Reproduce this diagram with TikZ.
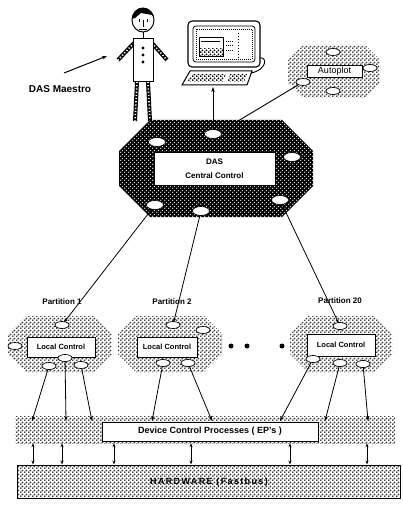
\documentclass[tikz,border=0pt]{standalone}
\usepackage{fontspec}
\setmainfont{Liberation Sans}
\usetikzlibrary{patterns,arrows.meta,shapes.geometric}

% stipple of round dots, used for the light and dark screens
\pgfdeclarepatternformonly{bigdots}{\pgfpointorigin}{\pgfpoint{4pt}{4pt}}{\pgfpoint{4pt}{4pt}}{%
  \pgfpathcircle{\pgfpoint{1pt}{1pt}}{1.15pt}%
  \pgfpathcircle{\pgfpoint{3pt}{3pt}}{1.15pt}%
  \pgfusepath{fill}}
\pgfdeclarepatternformonly{holes}{\pgfpointorigin}{\pgfpoint{4pt}{4pt}}{\pgfpoint{4pt}{4pt}}{%
  \pgfpathcircle{\pgfpoint{1pt}{1pt}}{0.8pt}%
  \pgfpathcircle{\pgfpoint{3pt}{3pt}}{0.8pt}%
  \pgfusepath{fill}}

% octagon outline from (x1,y1) to (x2,y2) with corner cut c
\newcommand\octo[5]{(#1+#5,#2) -- (#3-#5,#2) -- (#3,#2+#5) -- (#3,#4-#5) -- (#3-#5,#4) -- (#1+#5,#4) -- (#1,#4-#5) -- (#1,#2+#5) -- cycle}

\tikzset{
  lightfill/.style={pattern=bigdots, pattern color=black!80},
  darkfill/.style={preaction={fill=black}, pattern=holes, pattern color=white},
  port/.style={ellipse, draw, line width=0.7pt, fill=white, minimum width=14pt, minimum height=7pt, inner sep=0pt},
  bigport/.style={port, minimum width=17pt, minimum height=9pt},
  ctlbox/.style={draw, line width=0.8pt, fill=white, inner sep=0pt},
  lbl/.style={font=\bfseries\fontsize{8}{9}\selectfont},
  conn/.style={line width=0.8pt, -{Stealth[length=5pt,width=3.5pt]}},
  link/.style={line width=0.8pt, -{Stealth[length=4pt,width=3pt]}, shorten >=-1pt},
  both/.style={line width=0.8pt, {Stealth[length=4pt,width=3pt]}-{Stealth[length=4pt,width=3pt]}},
  limb/.style={line width=4pt, black},
  limbdots/.style={line width=1.6pt, white, dash pattern=on 1.2pt off 2pt},
}

\begin{document}
\begin{tikzpicture}[x=1pt, y=-1pt]
\useasboundingbox (0,0) rectangle (402,505);

% ---------- the operator ----------
\draw[line width=1pt] (143,20) ellipse [x radius=11pt, y radius=12pt];
\fill (132,19) arc[start angle=180, end angle=0, x radius=11pt, y radius=11pt] -- (152,15) -- (141,13) -- (135,18) -- cycle;
\draw[line width=0.9pt] (139,19) -- (139,22) (147,19) -- (147,22) (143,20) -- (143,27) (139,29) -- (147,29);
\draw[line width=1pt] (143,32) -- (143,39);
\draw[limb] (134,43) -- (118,60);
\draw[limbdots] (134,43) -- (118,60);
\draw[limb] (152,43) -- (167,60);
\draw[limbdots] (152,43) -- (167,60);
\draw[limb] (137,82) -- (135,121);
\draw[limbdots] (137,82) -- (135,121);
\draw[limb] (148,82) -- (150,121);
\draw[limbdots] (148,82) -- (150,121);
\node[draw, line width=1pt, fill=white, minimum width=20pt, minimum height=43pt, inner sep=0pt] (body) at (143,60.5) {};
\foreach \y in {48,55,62} \fill (143,\y) circle (1.6pt);
\node[font=\bfseries\fontsize{10}{12}\selectfont] (maestro) at (60,89) {DAS Maestro};
\coordinate (mtail) at (64,73);
\coordinate (mhead) at (107,56);
\draw[conn, line width=1pt] (mtail) -- (mhead);

% ---------- the console ----------
\draw[line width=1.1pt, rounded corners=4pt, fill=white] (188,21) rectangle (260,67);
\draw[line width=0.8pt, rounded corners=3pt] (193,26) rectangle (255,62);
\draw[line width=0.6pt, dash pattern=on 1pt off 1pt] (196,29) rectangle (252,59);
\draw[line width=0.7pt] (199,37) rectangle (223,56);
\fill[pattern=bigdots] (199,49) rectangle (223,56);
\draw[line width=0.6pt] (201,41) -- (220,41);
\draw[line width=0.8pt, dash pattern=on 1.5pt off 1.5pt] (238,33) -- (238,58);
\draw[line width=0.8pt, dash pattern=on 1pt off 1pt] (226,41) -- (234,41) (226,45) -- (233,45) (226,50) -- (234,50);
\draw[line width=1pt, fill=white] (190,71) -- (252,71) -- (247,85) -- (182,85) -- cycle;
\fill[pattern=bigdots] (192,74) -- (226,74) -- (223,82) -- (187,82) -- cycle;
\fill[pattern=bigdots] (230,74) -- (247,74) -- (244,82) -- (227,82) -- cycle;
\draw[line width=0.9pt] (259,58) .. controls (268,56) and (267,70) .. (251,73);
\coordinate (console) at (213,87);

% ---------- plotting service ----------
\fill[lightfill] \octo{288}{45}{380}{98}{15};
\node[ctlbox, minimum width=55pt, minimum height=12pt, font=\fontsize{9}{10}\selectfont] (autoplot) at (334.5,71) {Autoplot};
\node[port] (aptop) at (333,52) {};
\node[port] (apright) at (370,68) {};
\node[port] (apleft) at (303,82) {};
\node[port] (apbot) at (333,91) {};

% ---------- central control ----------
\fill[darkfill] \octo{119}{120}{313}{217}{31};
\node[ctlbox, minimum width=121pt, minimum height=33pt, align=center, font=\bfseries\fontsize{8}{14}\selectfont] (das) at (214.5,168.5) {DAS\\Central Control};
\node[bigport] (dA) at (213,134) {};
\node[bigport] (dB) at (157,142) {};
\node[bigport] (dC) at (292,157) {};
\node[bigport] (dD) at (155,205) {};
\node[bigport] (dE) at (201,211) {};
\node[bigport] (dF) at (280,200) {};
\coordinate (dtop) at (238,121);
\draw[conn] (dA) -- (console);
\draw[line width=0.9pt] (apleft) -- (dtop);

% ---------- partitions ----------
\fill[lightfill] \octo{8}{316}{112}{372}{18};
\fill[lightfill] \octo{118}{316}{222}{372}{18};
\fill[lightfill] \octo{290}{316}{392}{372}{18};

\node[lbl] (part1) at (62,302) {Partition 1};
\node[lbl] (part2) at (172,302) {Partition 2};
\node[lbl] (part20) at (340,301) {Partition 20};

\node[ctlbox, minimum width=68pt, minimum height=20pt, font=\bfseries\fontsize{7.5}{9}\selectfont] (lc1) at (61,347) {Local Control};
\node[ctlbox, minimum width=60pt, minimum height=20pt, font=\bfseries\fontsize{7.5}{9}\selectfont] (lc2) at (167,347) {Local Control};
\node[ctlbox, minimum width=68pt, minimum height=22pt, font=\bfseries\fontsize{7.5}{9}\selectfont] (lc20) at (341,345) {Local Control};

\node[port] (p1t) at (62,325) {};
\node[port] (p1l) at (15,346) {};
\node[port] (p1a) at (65,358) {};
\node[port] (p1b) at (49,366) {};
\node[port] (p1c) at (81,365) {};

\node[port] (p2t) at (173,325) {};
\node[port] (p2r) at (203,330) {};
\node[port] (p2a) at (163,363) {};
\node[port] (p2b) at (188,363) {};

\node[port] (p3t) at (340,326) {};
\node[port] (p3a) at (313,359) {};
\node[port] (p3b) at (340,363) {};
\node[port] (p3c) at (363,364) {};

\foreach \x in {231,247,282} \fill (\x,346) circle (2.5pt);

\draw[link] (dD) -- (p1t);
\draw[link] (dE) -- (p2t);
\draw[link] (dF) -- (p3t);

% ---------- device control processes ----------
\node[lightfill, minimum width=380pt, minimum height=27pt, inner sep=0pt] (band) at (205,429.5) {};
\node[ctlbox, minimum width=216pt, minimum height=19pt, font=\bfseries\fontsize{9}{10}\selectfont] (dcp) at (210,431.5) {Device Control Processes ( EP's )};

\foreach \n/\x in {a/32,b/66,c/92,d/152,e/212,f/280,g/325,h/368}
  \coordinate (t\n) at (\x,421);
\draw[conn] (p1b) -- (ta);
\draw[conn] (p1a) -- (tb);
\draw[conn] (p1c) -- (tc);
\draw[conn] (p2a) -- (td);
\draw[conn] (p2b) -- (te);
\draw[conn] (p3a) -- (tf);
\draw[conn] (p3b) -- (tg);
\draw[conn] (p3c) -- (th);

% ---------- hardware ----------
\node[draw, line width=1pt, pattern=bigdots, pattern color=black!80, minimum width=383pt, minimum height=33pt, inner sep=0pt] (hw) at (208.5,481.5) {};
\node[font=\bfseries\fontsize{9}{10}\selectfont\addfontfeature{LetterSpace=15}] (hwlabel) at (209,482) {HARDWARE (Fastbus)};

\foreach \x in {33,62,114,191,290,367}
  \draw[both] (\x,0 |- band.south) -- (\x,0 |- hw.north);
\end{tikzpicture}
\end{document}
